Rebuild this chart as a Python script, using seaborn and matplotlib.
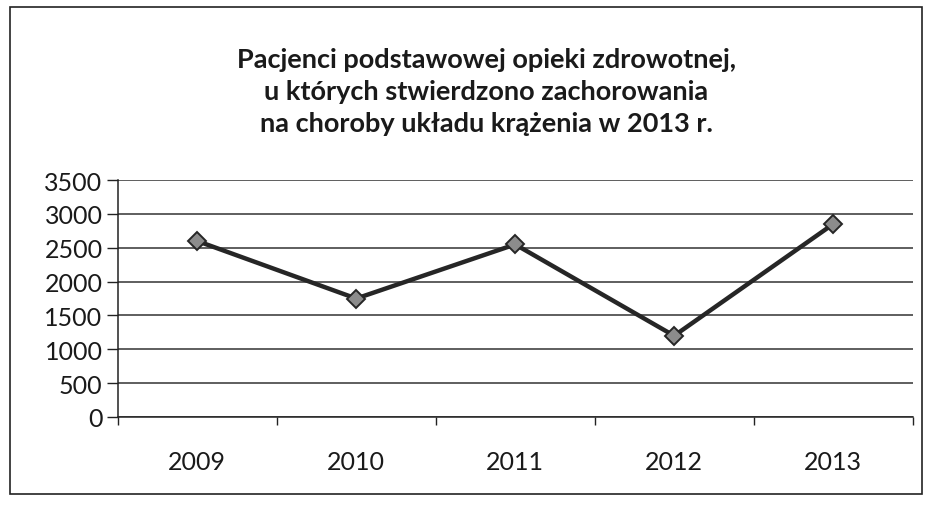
import numpy as np
import pandas as pd
import matplotlib
matplotlib.use("Agg")
import matplotlib.pyplot as plt
from matplotlib.patches import Rectangle
from matplotlib.ticker import FixedLocator
import seaborn as sns

# data
years = ["2009", "2010", "2011", "2012", "2013"]
patients = [2600, 1750, 2550, 1200, 2850]
y_ticks = [0, 500, 1000, 1500, 2000, 2500, 3000, 3500]

title = ("Pacjenci podstawowej opieki zdrowotnej,\n"
         "u których stwierdzono zachorowania\n"
         "na choroby układu krążenia w 2013 r.")

sns.set_theme(style="white")
plt.rcParams['font.family'] = ['Lato', 'DejaVu Sans']

df = pd.DataFrame({"rok": years, "pacjenci": patients})

fig = plt.figure(figsize=(9.35, 5.06), dpi=100)
ax = fig.add_axes([0.126, 0.174, 0.85, 0.468])

sns.pointplot(data=df, x="rok", y="pacjenci", ax=ax, color="#262626",
              markers="D", linestyles="-", linewidth=3.2, markersize=9,
              markerfacecolor="#8c8c8c", markeredgecolor="#262626",
              markeredgewidth=1.4, zorder=5)

ax.set_ylim(0, 3500)
ax.set_xlim(-0.5, len(years) - 0.5)
ax.set_yticks(y_ticks)
ax.yaxis.grid(True, color="#333333", linewidth=1.1)
ax.set_axisbelow(True)
ax.set_xlabel("")
ax.set_ylabel("")

for side in ["top", "right"]:
    ax.spines[side].set_visible(False)
for side in ["left", "bottom"]:
    ax.spines[side].set_color("#222222")
    ax.spines[side].set_linewidth(1.1)

ax.tick_params(axis="y", which="major", direction="out", length=8, width=1,
               color="#222222", labelsize=18, pad=3, left=True)
ax.tick_params(axis="x", which="major", length=0, labelsize=18, pad=24)
ax.xaxis.set_minor_locator(FixedLocator(np.arange(-0.5, len(years), 1.0)))
ax.tick_params(axis="x", which="minor", direction="out", length=6, width=1,
               color="#222222", bottom=True)
for lab in ax.get_xticklabels() + ax.get_yticklabels():
    lab.set_color("#1a1a1a")

fig.text(0.52, 0.818, title, ha="center", va="center", fontsize=19.5,
         fontweight="bold", color="#1a1a1a", linespacing=1.4)

fig.patches.append(Rectangle((0.011, 0.022), 0.975, 0.962, transform=fig.transFigure,
                             fill=False, edgecolor="#222222", linewidth=1.2))

fig.savefig("out.png", dpi=100, facecolor="white")
